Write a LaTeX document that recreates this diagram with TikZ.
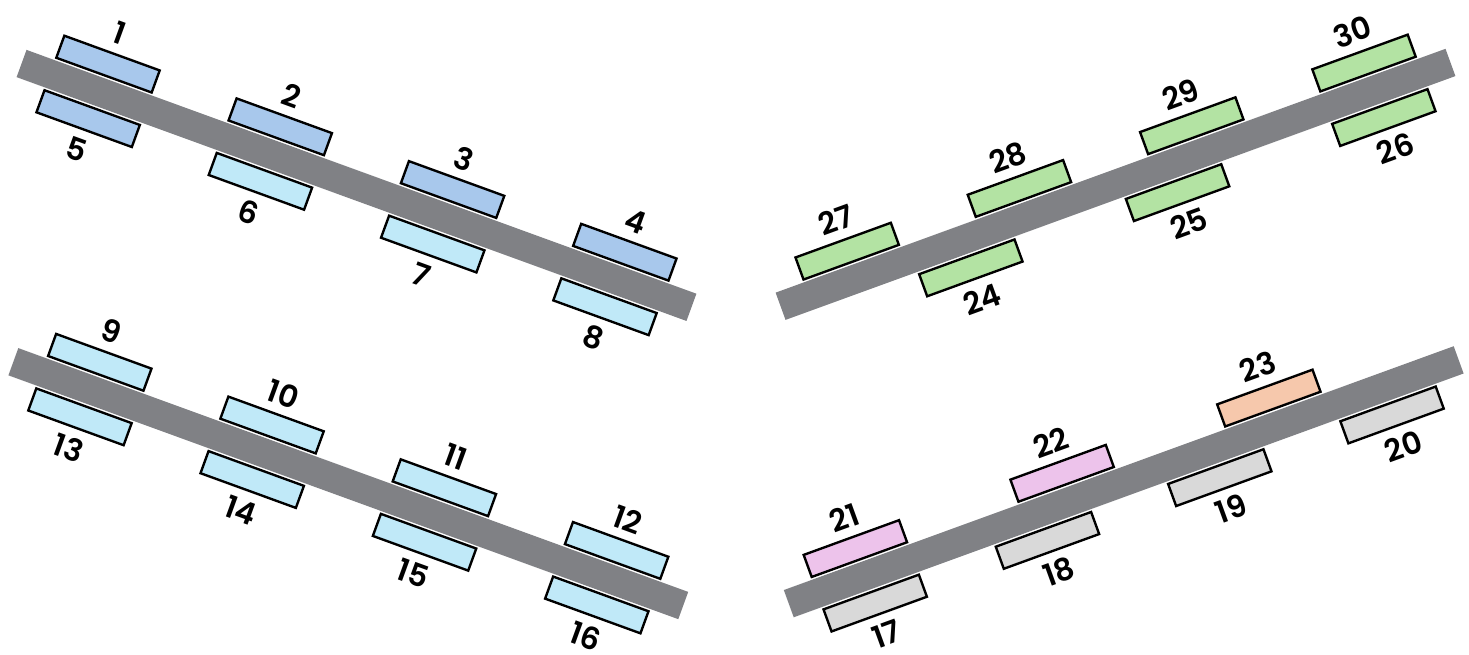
\documentclass[tikz,border=0pt]{standalone}
\usepackage{fontspec}
\newfontfamily\numfont{Poppins}[BoldFont={* SemiBold}]
\usepackage{tikz}
\usetikzlibrary{backgrounds}

\definecolor{barGray}{RGB}{128,129,133}
\definecolor{darkBlue}{RGB}{168,200,236}
\definecolor{lightBlue}{RGB}{192,233,248}
\definecolor{leafGreen}{RGB}{179,227,163}
\definecolor{softPink}{RGB}{237,195,235}
\definecolor{peach}{RGB}{246,200,172}
\definecolor{paleGray}{RGB}{217,217,217}

\begin{document}
\begin{tikzpicture} [x=0.02cm, y=0.02cm,
  blk/.style={rectangle, draw, line width=1.35pt, minimum width=2.03cm,
    minimum height=0.47cm, inner sep=0pt, transform shape},
  bar/.style={rectangle, fill=barGray, minimum width=14.26cm,
    minimum height=0.58cm, inner sep=0pt, transform shape},
  num/.style={font=\numfont\bfseries\fontsize{17.5}{20}\selectfont,
    inner sep=0pt, transform shape}]

\path[use as bounding box, fill=white] (0,0) rectangle (1469,655);

% top left
\begin{scope}[shift={(21.5,591.5)}, rotate=-20]
\path (81.5,29) node[blk, fill=darkBlue] (b1) {}
      (264.8,29) node[blk, fill=darkBlue] (b2) {}
      (448.2,29) node[blk, fill=darkBlue] (b3) {}
      (631.5,29) node[blk, fill=darkBlue] (b4) {}
      (81.5,-29) node[blk, fill=darkBlue] (b5) {}
      (264.8,-29) node[blk, fill=lightBlue] (b6) {}
      (448.2,-29) node[blk, fill=lightBlue] (b7) {}
      (631.5,-29) node[blk, fill=lightBlue] (b8) {}

      (356.5,0) node[bar] (barA) {}

      (81.5,62) node[num] (n1) {1}
      (264.8,62) node[num] (n2) {2}
      (448.2,62) node[num] (n3) {3}
      (631.5,62) node[num] (n4) {4}
      (81.5,-62) node[num] (n5) {5}
      (264.8,-62) node[num] (n6) {6}
      (448.2,-62) node[num] (n7) {7}
      (631.5,-62) node[num] (n8) {8};
\end{scope}

% bottom left
\begin{scope}[shift={(13.3,293.3)}, rotate=-20]
\path (81.5,29) node[blk, fill=lightBlue] (b9) {}
      (264.8,29) node[blk, fill=lightBlue] (b10) {}
      (448.2,29) node[blk, fill=lightBlue] (b11) {}
      (631.5,29) node[blk, fill=lightBlue] (b12) {}
      (81.5,-29) node[blk, fill=lightBlue] (b13) {}
      (264.8,-29) node[blk, fill=lightBlue] (b14) {}
      (448.2,-29) node[blk, fill=lightBlue] (b15) {}
      (631.5,-29) node[blk, fill=lightBlue] (b16) {}

      (356.5,0) node[bar] (barB) {}

      (81.5,62) node[num] (n9) {9}
      (264.8,62) node[num] (n10) {10}
      (448.2,62) node[num] (n11) {11}
      (631.5,62) node[num] (n12) {12}
      (81.5,-62) node[num] (n13) {13}
      (264.8,-62) node[num] (n14) {14}
      (448.2,-62) node[num] (n15) {15}
      (631.5,-62) node[num] (n16) {16};
\end{scope}

% top right
\begin{scope}[shift={(780.5,348.7)}, rotate=20]
\path (81.5,29) node[blk, fill=leafGreen] (b27) {}
      (264.8,29) node[blk, fill=leafGreen] (b28) {}
      (448.2,29) node[blk, fill=leafGreen] (b29) {}
      (631.5,29) node[blk, fill=leafGreen] (b30) {}
      (192,-29) node[blk, fill=leafGreen] (b24) {}
      (412,-29) node[blk, fill=leafGreen] (b25) {}
      (631.5,-29) node[blk, fill=leafGreen] (b26) {}

      (356.5,0) node[bar] (barC) {}

      (81.5,62) node[num] (n27) {27}
      (264.8,62) node[num] (n28) {28}
      (448.2,62) node[num] (n29) {29}
      (631.5,62) node[num] (n30) {30}
      (192,-62) node[num] (n24) {24}
      (412,-62) node[num] (n25) {25}
      (631.5,-62) node[num] (n26) {26};
\end{scope}

% bottom right
\begin{scope}[shift={(788.7,51.3)}, rotate=20]
\path (81.5,29) node[blk, fill=softPink] (b21) {}
      (301.5,29) node[blk, fill=softPink] (b22) {}
      (521.5,29) node[blk, fill=peach] (b23) {}
      (81.5,-29) node[blk, fill=paleGray] (b17) {}
      (264.8,-29) node[blk, fill=paleGray] (b18) {}
      (448.2,-29) node[blk, fill=paleGray] (b19) {}
      (631.5,-29) node[blk, fill=paleGray] (b20) {}

      (356.5,0) node[bar] (barD) {}

      (81.5,62) node[num] (n21) {21}
      (301.5,62) node[num] (n22) {22}
      (521.5,62) node[num] (n23) {23}
      (81.5,-62) node[num] (n17) {17}
      (264.8,-62) node[num] (n18) {18}
      (448.2,-62) node[num] (n19) {19}
      (631.5,-62) node[num] (n20) {20};
\end{scope}

\end{tikzpicture}
\end{document}
